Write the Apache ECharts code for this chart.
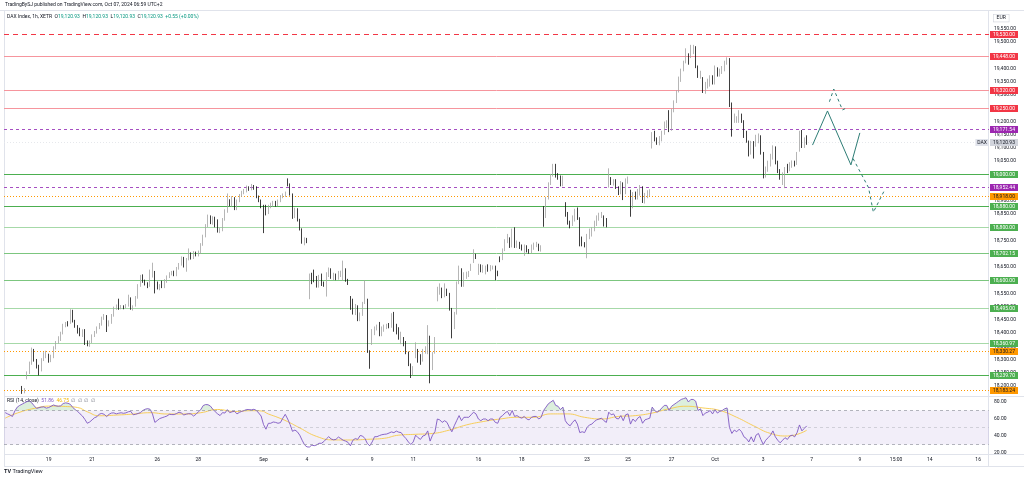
<!DOCTYPE html>
<html><head><meta charset="utf-8">
<script src="https://cdn.jsdelivr.net/npm/echarts@6/dist/echarts.min.js"></script>
<style>html,body{margin:0;padding:0;background:#fff;}#c{width:1024px;height:480px;}</style>
</head><body><div id="c"></div>
<script>
// ---------------- DATA ----------------
// hourly candles [open, close, low, high], grouped by week, first candle sits in slot 7
const firstCandleSlot = 7;
const wAug16 = [
[18192,18178,18170,18200],[18178,18183,18172,18192],
[18232,18250,18225,18255],[18250,18285,18245,18292],[18285,18335,18280,18345],[18333,18298,18292,18340],[18298,18273,18266,18302],[18272,18262,18240,18280],[18262,18300,18255,18305],[18300,18320,18294,18328],[18320,18325,18305,18333]];
const wAug19 = [
[18315,18295,18288,18322],[18295,18312,18290,18318],[18312,18345,18305,18350],[18345,18365,18338,18370],[18365,18380,18360,18388],[18378,18400,18370,18405],[18400,18430,18395,18435],[18430,18438,18422,18442],[18440,18432,18425,18445],
[18440,18484,18435,18490],[18482,18445,18440,18488],[18445,18425,18420,18450],[18425,18415,18398,18430],[18412,18395,18388,18420],[18395,18408,18385,18414],[18410,18362,18355,18415],[18362,18355,18350,18372],[18355,18365,18348,18372],
[18368,18390,18362,18395],[18390,18402,18385,18408],[18402,18420,18398,18425],[18420,18432,18415,18438],[18432,18455,18428,18462],[18455,18468,18450,18472],[18465,18430,18404,18468],[18430,18440,18425,18448],[18440,18468,18435,18472],
[18468,18495,18462,18500],[18495,18500,18488,18508],[18502,18494,18488,18530],[18494,18500,18490,18506],[18500,18498,18490,18505],[18498,18505,18494,18510],[18505,18540,18500,18545],[18530,18495,18488,18535],[18495,18500,18485,18505],
[18505,18535,18500,18540],[18535,18580,18530,18585],[18580,18615,18575,18620],[18618,18595,18590,18622],[18598,18588,18580,18602],[18588,18578,18570,18592],[18580,18630,18575,18640],[18622,18632,18610,18666],[18630,18580,18550,18635]];
const wAug26 = [
[18588,18570,18565,18595],[18570,18580,18562,18585],[18595,18575,18570,18598],[18575,18600,18570,18604],[18595,18612,18590,18618],[18612,18625,18608,18630],[18625,18630,18618,18635],[18632,18620,18615,18636],[18620,18645,18615,18650],
[18645,18660,18640,18665],[18660,18684,18655,18690],[18684,18655,18648,18688],[18655,18680,18632,18684],[18680,18700,18675,18720],[18700,18683,18678,18705],[18684,18702,18680,18710],[18702,18696,18690,18708],[18696,18705,18690,18712],
[18705,18735,18700,18740],[18735,18768,18730,18772],[18768,18805,18762,18812],[18805,18840,18800,18848],[18840,18818,18812,18845],[18818,18836,18810,18842],[18836,18808,18800,18840],[18825,18785,18780,18830],[18785,18790,18778,18798],
[18790,18830,18785,18835],[18830,18862,18825,18868],[18862,18895,18855,18928],[18900,18888,18880,18906],[18885,18912,18878,18918],[18910,18870,18865,18914],[18870,18900,18865,18905],[18900,18920,18895,18926],[18920,18932,18915,18938],
[18932,18940,18925,18945],[18940,18948,18932,18958],[18948,18945,18938,18955],[18945,18952,18940,18964],[18952,18950,18942,18960],[18950,18915,18910,18955],[18915,18900,18895,18920],[18900,18880,18872,18905],[18880,18870,18778,18885]];
const wSep2 = [
[18870,18855,18845,18885],[18855,18880,18850,18885],[18880,18888,18872,18893],[18888,18895,18878,18900],[18895,18885,18878,18900],[18885,18900,18880,18905],[18900,18918,18895,18922],[18918,18922,18910,18928],[18922,18930,18915,18935],
[18978,18962,18955,18985],[18962,18925,18920,18966],[18925,18840,18832,18928],[18840,18868,18835,18874],[18868,18828,18822,18872],[18828,18792,18788,18832],[18792,18745,18738,18796],[18740,18755,18732,18762],[18755,18748,18740,18760],
[18532,18618,18528,18625],[18618,18590,18585,18628],[18625,18598,18592,18640],[18610,18578,18572,18616],[18578,18615,18572,18620],[18620,18585,18578,18625],[18588,18582,18575,18595],[18585,18625,18538,18630],[18620,18642,18612,18648],
[18640,18612,18605,18645],[18605,18622,18600,18628],[18622,18608,18600,18625],[18608,18630,18602,18635],[18618,18630,18612,18636],[18602,18640,18598,18674],[18640,18600,18594,18645],[18600,18590,18582,18605],
[18535,18492,18488,18540],[18525,18475,18470,18530],[18475,18505,18468,18510],[18500,18450,18445,18505],[18450,18470,18445,18478],[18470,18512,18465,18518],[18515,18538,18510,18600],[18525,18330,18325,18530],[18330,18273,18265,18335]];
const wSep9 = [
[18362,18410,18355,18415],[18400,18418,18392,18425],[18418,18425,18410,18432],[18437,18393,18388,18442],[18393,18420,18388,18425],[18412,18428,18405,18432],[18420,18430,18415,18435],[18434,18424,18418,18438],[18424,18455,18420,18475],
[18475,18412,18405,18480],[18430,18400,18395,18435],[18418,18380,18375,18422],[18365,18398,18358,18405],[18380,18355,18350,18385],[18366,18325,18320,18370],[18325,18280,18275,18330],[18280,18236,18230,18285],[18245,18270,18240,18275],
[18312,18358,18305,18365],[18335,18295,18288,18340],[18300,18285,18280,18320],[18298,18335,18292,18340],[18330,18342,18322,18350],[18324,18386,18320,18430],[18385,18262,18210,18390],[18268,18322,18260,18328],
[18330,18380,18322,18385],[18525,18568,18520,18575],[18555,18565,18545,18588],[18565,18540,18532,18572],[18540,18560,18535,18588],[18560,18548,18540,18568],[18548,18490,18485,18552],[18490,18420,18380,18495],[18420,18475,18415,18480],
[18475,18590,18470,18595],[18590,18648,18585,18655],[18640,18580,18575,18645],[18580,18625,18575,18630],[18615,18625,18605,18632],[18620,18628,18612,18635],[18640,18658,18635,18662],[18670,18695,18665,18717],[18693,18684,18680,18700]];
const wSep16 = [
[18627,18655,18620,18662],[18655,18637,18630,18660],[18637,18652,18628,18658],[18628,18650,18622,18655],[18655,18640,18632,18660],[18640,18652,18634,18657],[18645,18650,18640,18655],[18650,18626,18600,18655],[18632,18620,18615,18636],
[18686,18674,18668,18690],[18680,18715,18676,18720],[18715,18750,18710,18755],[18748,18770,18740,18775],[18758,18728,18722,18762],[18728,18785,18724,18795],[18790,18728,18722,18800],[18728,18745,18722,18750],[18740,18722,18718,18745],
[18730,18715,18712,18735],[18715,18730,18692,18735],[18727,18710,18705,18732],[18712,18708,18700,18718],[18708,18730,18702,18735],[18720,18737,18715,18742],[18730,18740,18725,18745],[18732,18715,18710,18738],[18712,18727,18708,18732],
[18877,18833,18802,18880],[18840,18910,18835,18915],[18910,18966,18905,18970],[18966,18998,18960,19002],[18998,19023,18992,19040],[19023,18992,18988,19040],[19000,18985,18980,19005],[18992,18960,18955,18996],[18960,18990,18955,18995],
[18890,18846,18840,18895],[18853,18815,18810,18858],[18820,18800,18796,18825],[18810,18840,18805,18845],[18828,18865,18822,18870],[18870,18834,18828,18875],[18834,18740,18728,18838],[18760,18735,18728,18765],[18740,18728,18724,18744]];
const wSep23 = [
[18728,18770,18683,18775],[18760,18790,18755,18795],[18770,18795,18765,18800],[18790,18820,18785,18825],[18810,18840,18805,18845],[18830,18845,18825,18855],[18840,18850,18835,18858],[18840,18822,18803,18845],[18830,18808,18800,18835],
[18955,18990,18950,19023],[18985,18966,18960,18990],[18966,18975,18958,18982],[18978,18950,18945,18982],[18950,18928,18922,18955],[18930,18968,18925,18975],[18966,18930,18903,18970],[18930,18980,18925,18985],[18970,18985,18965,18992],
[18935,18878,18840,18942],[18878,18928,18872,18933],[18928,18910,18905,18935],[18910,18940,18905,18945],[18925,18955,18920,18960],[18950,18898,18892,18955],[18898,18925,18890,18930],[18915,18935,18910,18940],[18925,18938,18918,18944],
[19105,19155,19098,19160],[19160,19130,19125,19165],[19135,19118,19112,19140],[19118,19140,19110,19145],[19130,19160,19125,19165],[19155,19195,19150,19200],[19180,19196,19175,19205],[19225,19170,19160,19243],[19170,19240,19165,19248],
[19240,19275,19235,19280],[19275,19312,19270,19318],[19315,19355,19310,19370],[19355,19395,19350,19400],[19395,19425,19390,19430],[19425,19458,19420,19477],[19452,19420,19415,19458],[19445,19477,19440,19490],[19460,19480,19455,19490],[19480,19470,19402,19485]];
const wSep30 = [
[19407,19370,19365,19412],[19370,19388,19362,19392],[19363,19313,19308,19368],[19313,19345,19305,19350],[19332,19357,19325,19362],[19338,19370,19332,19375],[19370,19345,19340,19375],[19345,19405,19340,19412],[19400,19376,19370,19405],
[19376,19395,19370,19400],[19385,19405,19380,19410],[19395,19425,19390,19430],[19420,19440,19415,19443],[19433,19262,19255,19440],[19268,19200,19143,19272],
[19200,19225,19195,19230],[19205,19212,19195,19220],[19200,19230,19195,19243],[19225,19200,19195,19230],[19200,19143,19138,19205],[19162,19125,19120,19165],[19124,19074,19068,19128],[19080,19122,19075,19127],[19122,19067,19060,19126],[19112,19143,19105,19150],[19125,19149,19118,19155],
[19140,19080,19075,19148],[19080,18992,18985,19085],[18994,19026,18988,19030],[19016,19048,19010,19052],[19036,19073,19030,19078],[19062,19105,19056,19110],[19100,19043,19038,19106],[19048,19010,19005,19052],[19016,18985,18980,19020],[18985,19004,18960,19008],[18985,19023,18948,19028],
[19035,19010,19005,19040],[19017,19042,19012,19046],[19030,19048,19025,19053],[19048,19036,19030,19052],[19042,19080,19036,19085],[19092,19160,19086,19165],[19160,19105,19100,19168],[19105,19130,19100,19140],[19143,19120.93,19112,19148]];

// RSI(14) values, one per slot starting at slot 0
const rsiA = [67.5,66,64.7,63,69.5,74,76,77.5,79,80.5,81.5,79,75.5,72.5,73.3,74,74.3,72.8,73.5,75,76.5,75.5,75,75.5,78.2,79,78.5,77.2,73.5,71,69,66,63.5,59.5,55,56.5,59,61.5,62.7,65.8,66.5,65.5,62.8,65.5,67,67.2,66,66.8,67.3,66.7,67.2,68.5,69,65,65.5];
const rsiB = [66.5,67.5,70,71.5,72.2,71.4,66,56,58.2,60.5,61.5,62.5,63.5,65.5,65.2,65.2,66.5,68,67,64.7,65.7,66.3,66,63.5,65.5,68.5,71,75.8,77,76.8,75.2,71.5,68.5,66,64,67.5,67,71,67.5,68.5,69,66,67.8,69,70,71.2,71,70.8,71.4,70.2,67,63.5,53.5];
const rsiC = [48,54.9,55,56.5,56,55,55.7,61,65.5,60,53.5,45.5,47,45,41,35,29.5,27.2,27,29.3,28.6,29.5,31.4,31.4,33.5,36.5,39.2,36.5,35.5,36,38.8,37,35,34,32.5,28.5,35,37,36,40.5,40,37,31.2,28.5,33,39.2,39.2,40.5,41.5,42,42.3,43.5,44.8,43.9,45.8,44.5];
const rsiD = [44,40,37,33,30,33,
41,38,36,40,41,46,34,41,
45,60,59,56,58,56,50,45,52,
58,64,58,62,62,62,65,68,66,
60,58,60,60,58,60,60,56,55,
62,64,67,69,64,70,63,64,62,
61,63,60,59,62,63,63,60,62,
70,74,78,80,82,76,75,71,74,
58,54,52,56,59,54,44,45,44,
50,53,54,57,59,60,61,58,56,
68,65,66,61,60,64,58,65,66,
54,60,57,61,63,55,59,60,61,
74,70,68,70,73,76,76,70,75,
77,79,81,83,84,85,80,83,83,81,
70,72,64,67,68,70,66,71,67,
69,70,72,73,50,43,
47,45,48,45,39,37,33,39,33,41,43,
36,30,35,38,41,46,39,35,32,35,38,
36,40,41,39,44,53,46,49,51.86];
// RSI-based moving average, read at [slot, value]
const rsiMA = [[0,61],[5,67],[12,72.5],[19,75.2],[25,74.7],[30,73.5],[34,68.5],[39,63.8],[46,64.6],[53,65.8],[60,67.4],[67,65.9],[74,65.9],[81,67.4],[88,71.2],[95,68.8],[102,69.8],[106,69.5],[109,65.9],[113,61.8],[117,56.9],[122,49.5],[129,39.5],[136,35.4],[143,35.3],[150,36.1],[157,37.3],[163,41],[170,42],[177,43],[184,47],[191,53],[198,57],[205,60],[212,62],[219,62],[226,66],[233,66],[240,62],[247,60],[254,63],[261,64],[268,67],[275,72],[282,75],[289,73],[296,70],[303,62],[310,52],[317,43],[324,40],[332,46.75]];

// horizontal levels (price) and their kind
const levelValues = [19530,19448,19320,19250,19171.54,19000,18952.44,18918,18880,18800,18702.15,18600,18495,18360.97,18330.27,18239.70,18183.24,19120.93];
const levelKinds  = ['redDash','red','red','red','purple','greenDark','purple','orange','greenDark','greenLight','greenMid','greenMid','greenLight','greenLight','orange','greenDark','orange','last'];

// forecast drawing (slot, price)
const forecastSolid = [[334.4,19111],[340.6,19240],[350.3,19036],[354,19157]];
const forecastDash1 = [[341.4,19275],[343.2,19323],[346.8,19244],[348.2,19250]];
const forecastDash2 = [[351.2,19060],[357.6,18950],[359.6,18857],[364.2,18940]];

// time-axis tick labels (slot, text)
const xTickSlots = [18,36,63,80,107,125,152,169,196,214,241,258,276,294,314,334,354,369,383,403];
const xTickTexts = ['19','21','26','28','Sep','4','9','11','16','18','23','25','27','Oct','3','7','9','15:00','14','16'];
const rsiTicks = [80,60,40,20];

// ---------------- CHART ----------------
const N = 408;
const slots = Array.from({length: N}, (_, i) => String(i));
const FONT = 'Roboto, "Liberation Sans", Arial, sans-serif';
const TXT = '#131722';
const labelMap = new Map(xTickSlots.map((s, i) => [s, xTickTexts[i]]));
const candles = [].concat(wAug16, wAug19, wAug26, wSep2, wSep9, wSep16, wSep23, wSep30)
  .map((c, i) => [firstCandleSlot + i, c[0], c[1], c[2], c[3]]);
const rsi = [].concat(rsiA, rsiB, rsiC, rsiD);
const fmt2 = v => v.toLocaleString('en-US', {minimumFractionDigits: 2, maximumFractionDigits: 2});

const kindStyle = {
  redDash:   {color: '#f23645', width: 1, dash: [5, 4], bg: '#f23645', fg: '#fff'},
  red:       {color: '#f6959d', width: 1, dash: null, bg: '#f23645', fg: '#fff'},
  purple:    {color: '#a64fc2', width: 1, dash: [3, 3], bg: '#9c27b0', fg: '#fff'},
  greenDark: {color: '#4caf50', width: 1, dash: null, bg: '#4caf50', fg: '#fff'},
  greenMid:  {color: '#7cc67f', width: 1, dash: null, bg: '#4caf50', fg: '#fff'},
  greenLight:{color: '#a6d9a8', width: 1, dash: null, bg: '#4caf50', fg: '#fff'},
  orange:    {color: '#ff9800', width: 1, dash: [1, 2], bg: '#ff9800', fg: '#131722'},
  last:      {color: '#e6e8ec', width: 1, dash: [1, 2], bg: '#d1d4dc', fg: '#131722'}
};

function renderLevel(params, api) {
  const v = api.value(1);
  const s = kindStyle[levelKinds[params.dataIndex]];
  const cs = params.coordSys;
  const y = Math.round(api.coord([0, v])[1]) + 0.5;
  const xR = cs.x + cs.width;
  const children = [
    {type: 'line', shape: {x1: cs.x, y1: y, x2: xR, y2: y},
      style: {stroke: s.color, lineWidth: s.width, lineDash: s.dash}},
    {type: 'text', style: {text: fmt2(v), x: xR + 1, y: y, align: 'left', verticalAlign: 'middle',
      fill: s.fg, backgroundColor: s.bg, padding: [1, 3, 1, 3], fontSize: 5, fontFamily: FONT}}
  ];
  if (levelKinds[params.dataIndex] === 'last') {
    children.push({type: 'text', style: {text: 'DAX', x: xR, y: y, align: 'right', verticalAlign: 'middle',
      fill: TXT, backgroundColor: '#e0e3eb', padding: [1, 2, 1, 2], fontSize: 5, fontFamily: FONT}});
  }
  return {type: 'group', children};
}

const chart = echarts.init(document.getElementById('c'), null, {renderer: 'canvas'});
const line = (x1, y1, x2, y2, color) => ({type: 'line', silent: true, shape: {x1, y1, x2, y2}, style: {stroke: color || '#e0e3eb', lineWidth: 1}});

const option = {
  animation: false,
  backgroundColor: '#ffffff',
  textStyle: {fontFamily: FONT},
  grid: [
    {left: 4, right: 35, top: 2.56, height: 396.6},
    {left: 4, right: 35, top: 385, height: 85}
  ],
  xAxis: [
    {type: 'category', gridIndex: 0, data: slots, boundaryGap: true, show: false},
    {type: 'category', gridIndex: 1, data: slots, boundaryGap: true, offset: -16,
      axisLine: {show: false}, axisTick: {show: false}, splitLine: {show: false},
      axisLabel: {interval: (i) => labelMap.has(i), formatter: (val, i) => labelMap.get(i) || '',
        fontSize: 5, color: TXT, margin: 3.5, fontFamily: FONT}},
    {type: 'value', gridIndex: 0, min: -0.5, max: N - 0.5, show: false},
    {type: 'value', gridIndex: 1, min: -0.5, max: N - 0.5, show: false}
  ],
  yAxis: [
    {type: 'value', gridIndex: 0, position: 'right', min: 18150, max: 19650, interval: 50,
      splitLine: {show: false}, axisLine: {show: false}, axisTick: {show: false},
      axisLabel: {fontSize: 5, color: TXT, margin: 5, fontFamily: FONT,
        formatter: v => (v > 19560 || v < 18190) ? '' : fmt2(v)}},
    {type: 'value', gridIndex: 1, position: 'right', min: 0, max: 100, interval: 20,
      splitLine: {show: false}, axisLine: {show: false}, axisTick: {show: false},
      axisLabel: {fontSize: 5, color: TXT, margin: 5, fontFamily: FONT,
        formatter: v => rsiTicks.includes(v) ? v.toFixed(2) : ''}}
  ],
  series: [
    {type: 'custom', xAxisIndex: 2, yAxisIndex: 0, data: levelValues.map(v => [0, v]),
      encode: {x: 0, y: 1}, renderItem: renderLevel, silent: true, clip: false, z: 1},
    {type: 'candlestick', xAxisIndex: 0, yAxisIndex: 0, data: candles,
      encode: {x: 0, y: [1, 2, 3, 4]}, barWidth: 1.2, clip: true, z: 3,
      itemStyle: {color: '#cfcfcf', color0: '#0d0d0d', borderColor: '#a3a3a3', borderColor0: '#0d0d0d', borderWidth: 0.8}
    },
    {type: 'lines', coordinateSystem: 'cartesian2d', xAxisIndex: 2, yAxisIndex: 0, polyline: true,
      symbol: ['none', 'arrow'], symbolSize: 5, silent: true, z: 4,
      lineStyle: {color: '#2e7d76', width: 1, opacity: 1},
      data: [{coords: forecastSolid}]},
    {type: 'lines', coordinateSystem: 'cartesian2d', xAxisIndex: 2, yAxisIndex: 0, polyline: true,
      symbol: ['none', 'arrow'], symbolSize: 5, silent: true, z: 4,
      lineStyle: {color: '#2e7d76', width: 1, type: [3, 3], opacity: 1},
      data: [{coords: forecastDash1}, {coords: forecastDash2}]},
    {type: 'line', xAxisIndex: 3, yAxisIndex: 1, data: rsi.map((v, i) => [i, Math.max(v, 70)]),
      showSymbol: false, silent: true, lineStyle: {opacity: 0, width: 0},
      areaStyle: {origin: 70, color: 'rgba(76,175,80,0.28)'}, z: 1},
    {type: 'line', xAxisIndex: 3, yAxisIndex: 1, data: rsiMA, smooth: true, showSymbol: false, silent: true,
      lineStyle: {color: '#f7c948', width: 0.9}, z: 2},
    {type: 'line', xAxisIndex: 3, yAxisIndex: 1, data: rsi.map((v, i) => [i, v]), showSymbol: false, silent: true,
      lineStyle: {color: '#7e57c2', width: 0.9}, z: 3,
      markArea: {silent: true, itemStyle: {color: 'rgba(126,87,194,0.1)'}, data: [[{yAxis: 30}, {yAxis: 70}]]},
      markLine: {symbol: ['none', 'none'], silent: true, label: {show: false},
        data: [
          {yAxis: 70, lineStyle: {color: '#9598a1', width: 0.7, type: [3, 3]}},
          {yAxis: 50, lineStyle: {color: 'rgba(149,152,161,0.5)', width: 0.7, type: [3, 3]}},
          {yAxis: 30, lineStyle: {color: '#9598a1', width: 0.7, type: [3, 3]}}
        ]}
    }
  ],
  graphic: [
    line(0, 10.5, 1024, 10.5),
    line(4.5, 10, 4.5, 467),
    line(988.5, 10, 988.5, 467),
    line(4, 396.5, 1024, 396.5),
    line(4, 454.5, 1024, 454.5),
    line(4, 466.5, 1024, 466.5),
    {type: 'text', silent: true, left: 5, top: 2, style: {text: 'TradingBySJ published on TradingView.com, Oct 07, 2024 06:59 UTC+2', fontSize: 5, fontFamily: FONT, fill: TXT}},
    {type: 'text', silent: true, left: 7, top: 14.5, style: {
      text: '{a|DAX Index, 1h, XETR}  {b|O}{c|19,120.93}  {b|H}{c|19,120.93}  {b|L}{c|19,120.93}  {b|C}{c|19,120.93}  {c|+0.55 (+0.00%)}',
      fontSize: 5, fontFamily: FONT, fill: TXT,
      rich: {a: {fontSize: 5, fill: TXT, fontFamily: FONT}, b: {fontSize: 5, fill: TXT, fontFamily: FONT}, c: {fontSize: 5, fill: '#089981', fontFamily: FONT}}}},
    {type: 'text', silent: true, left: 993, top: 14, style: {text: 'EUR', fontSize: 5, fontFamily: FONT, fill: TXT, backgroundColor: '#fff', borderColor: '#d1d4dc', borderWidth: 0.6, padding: [1, 3]}},
    {type: 'text', silent: true, left: 7, top: 398.5, style: {
      text: '{a|RSI (14, close)}  {b|51.86}  {c|46.75}  {d|∅  ∅  ∅  ∅}',
      fontSize: 5, fontFamily: FONT,
      rich: {a: {fontSize: 5, fill: TXT, fontFamily: FONT}, b: {fontSize: 5, fill: '#7e57c2', fontFamily: FONT}, c: {fontSize: 5, fill: '#f2b600', fontFamily: FONT}, d: {fontSize: 5, fill: '#787b86', fontFamily: FONT}}}},
    {type: 'text', silent: true, left: 4, top: 469, style: {text: '{l|TV} TradingView', fontSize: 5.5, fontFamily: FONT, fill: TXT,
      rich: {l: {fontSize: 5.5, fontWeight: 'bold', fill: TXT, fontFamily: FONT}}}}
  ]
};
chart.setOption(option);
</script></body></html>
